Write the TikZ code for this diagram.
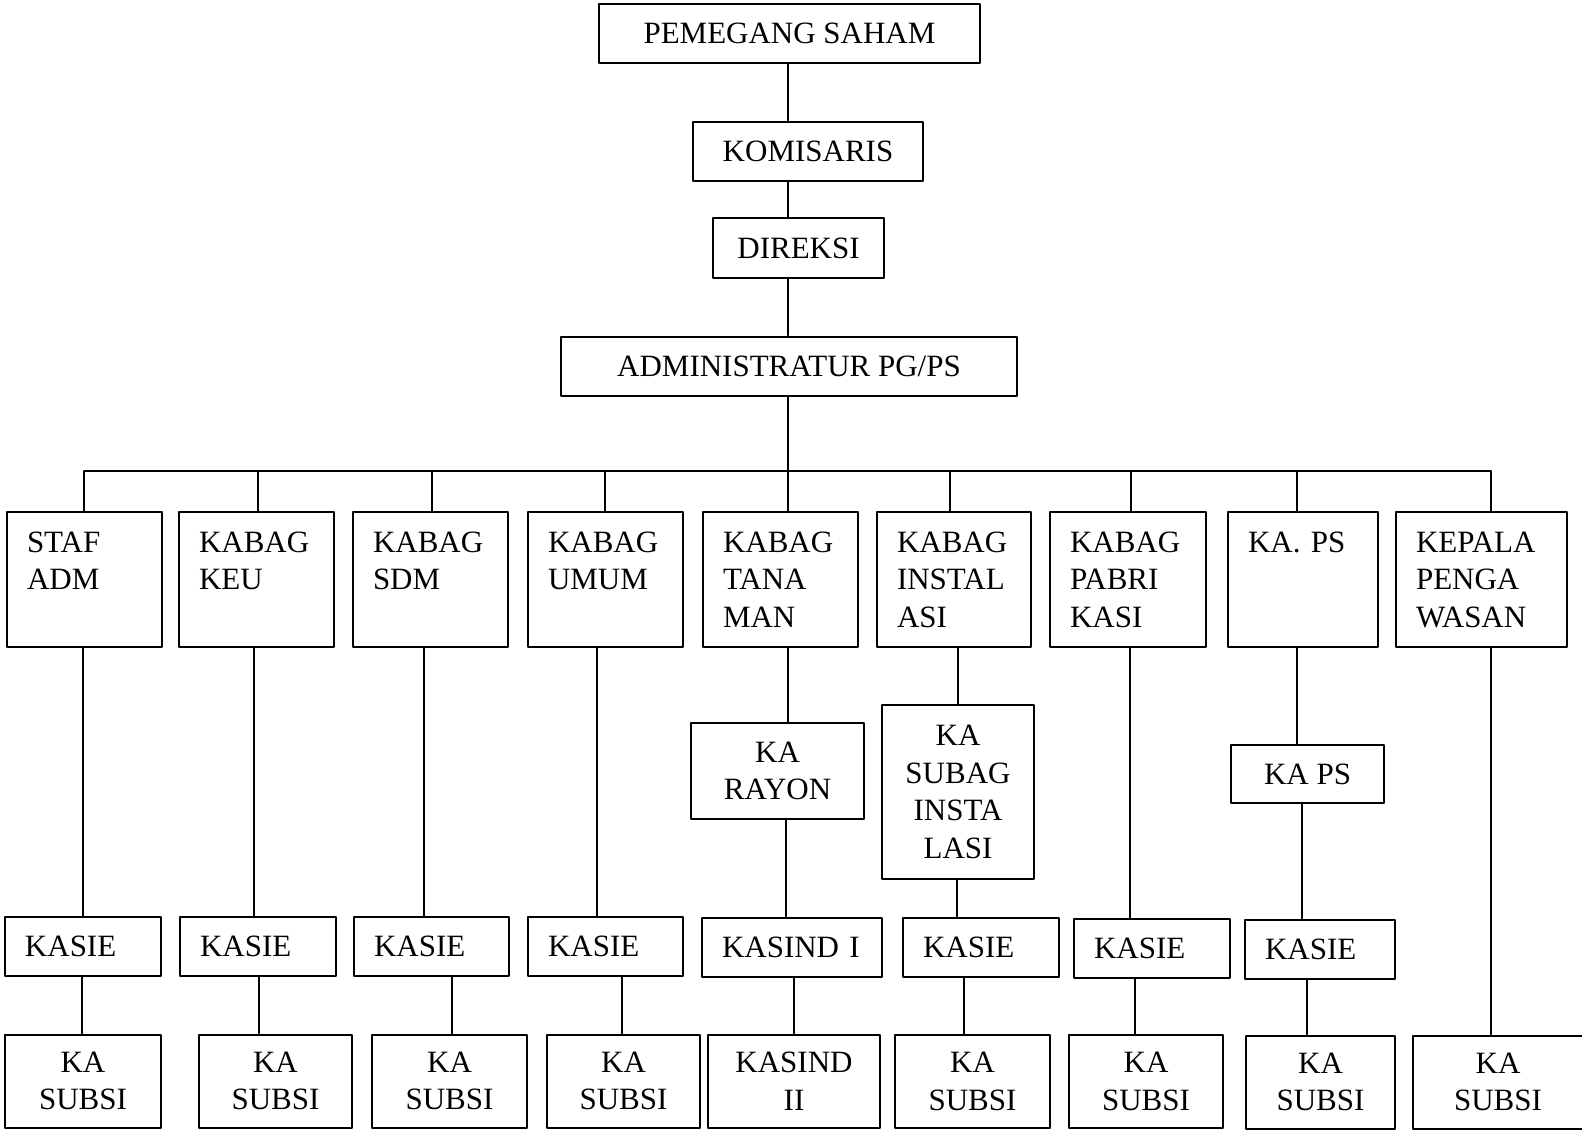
\documentclass[tikz,border=0pt]{standalone}
\usepackage{fontspec}
\setmainfont{Liberation Serif}

\tikzset{
  kotak/.style={draw, line width=1pt, inner sep=0pt, font=\fontsize{15.5}{18.75}\selectfont},
  pimpinan/.style={kotak, minimum width=#1, minimum height=29.5pt, align=center},
  bagian/.style={kotak, text width=#1, inner xsep=10pt, minimum height=67.5pt, align=left},
  seksi/.style={kotak, text width=#1, inner xsep=10pt, minimum height=29.5pt, align=left},
  subsi/.style={kotak, minimum width=#1, minimum height=46.5pt, align=center},
  garis/.style={line width=0.6pt}
}

\begin{document}
\begin{tikzpicture}[line cap=round,line join=round,x=0.5pt,y=-0.5pt]
	\useasboundingbox (0,0) rectangle (1582,1130);
	\clip (0,0) rectangle (1582,1130);

	\node[pimpinan=190.5pt] (saham) at (789.5,33.5) {PEMEGANG SAHAM};
	\node[pimpinan=115pt] (komisaris) at (808,151) {KOMISARIS};
	\node[pimpinan=85.5pt, minimum height=30pt] (direksi) at (798.5,248) {DIREKSI};
	\node[pimpinan=228pt] (admin) at (789,366) {ADMINISTRATUR PG/PS};

	\node[bagian=57.5pt] (staf) at (84.5,579.5) {STAF\\ADM\\\mbox{}};
	\node[bagian=57.5pt] (keu) at (256.5,579.5) {KABAG\\KEU\\\mbox{}};
	\node[bagian=57.5pt] (sdm) at (430.5,579.5) {KABAG\\SDM\\\mbox{}};
	\node[bagian=57.5pt] (umum) at (605.5,579.5) {KABAG\\UMUM\\\mbox{}};
	\node[bagian=57.5pt] (tanaman) at (780.5,579.5) {KABAG\\TANA\\MAN};
	\node[bagian=57pt] (instalasi) at (954,579.5) {KABAG\\INSTAL\\ASI};
	\node[bagian=58pt] (pabrikasi) at (1128,579.5) {KABAG\\PABRI\\KASI};
	\node[bagian=55pt] (kaps) at (1303,579.5) {KA. PS\\\mbox{}\\\mbox{}};
	\node[bagian=65.5pt] (kepala) at (1481.5,579.5) {KEPALA\\PENGA\\WASAN};

	\node[pimpinan=86.5pt, minimum height=48pt] (rayon) at (777.5,771) {KA\\RAYON};
	\node[pimpinan=76pt, minimum height=87pt] (subag) at (958,792) {KA\\SUBAG\\INSTA\\LASI};
	\node[pimpinan=76.5pt, minimum height=29pt] (kaps2) at (1307.5,774) {KA PS};

	\node[seksi=58pt] (kasie1) at (83,946.5) {KASIE};
	\node[seksi=58pt] (kasie2) at (258,946.5) {KASIE};
	\node[seksi=57.5pt] (kasie3) at (431.5,946.5) {KASIE};
	\node[seksi=57.5pt] (kasie4) at (605.5,946.5) {KASIE};
	\node[seksi=70pt] (kasind1) at (792,947.5) {KASIND I};
	\node[seksi=58pt] (kasie6) at (981,947.5) {KASIE};
	\node[seksi=58pt] (kasie7) at (1152,948.5) {KASIE};
	\node[seksi=55pt] (kasie8) at (1320,949) {KASIE};

	\node[subsi=78pt] (subsi1) at (83,1081) {KA\\SUBSI};
	\node[subsi=76.5pt] (subsi2) at (275.5,1081) {KA\\SUBSI};
	\node[subsi=77.5pt] (subsi3) at (449.5,1081) {KA\\SUBSI};
	\node[subsi=76.5pt] (subsi4) at (623.5,1081) {KA\\SUBSI};
	\node[subsi=86pt] (kasind2) at (794,1081) {KASIND\\II};
	\node[subsi=77.5pt] (subsi6) at (972.5,1081.5) {KA\\SUBSI};
	\node[subsi=77pt] (subsi7) at (1146,1081.5) {KA\\SUBSI};
	\node[subsi=74.5pt] (subsi8) at (1320.5,1082) {KA\\SUBSI};
	\node[subsi=85pt] (subsi9) at (1498,1082) {KA\\SUBSI};

	\coordinate (b1) at (84,471);
	\coordinate (b2) at (258,471);
	\coordinate (b3) at (432,471);
	\coordinate (b4) at (605,471);
	\coordinate (b5) at (788,471);
	\coordinate (b6) at (950,471);
	\coordinate (b7) at (1131,471);
	\coordinate (b8) at (1297,471);
	\coordinate (b9) at (1491,471);

	\draw [garis] (saham.south -| 788,0) -- (komisaris.north -| 788,0);
	\draw [garis] (komisaris.south -| 788,0) -- (direksi.north -| 788,0);
	\draw [garis] (direksi.south -| 788,0) -- (admin.north -| 788,0);
	\draw [garis] (admin.south -| b5) -- (b5);
	\draw [garis] (b1) -- (b9);

	\draw [garis] (b1) -- (b1 |- staf.north);
	\draw [garis] (b2) -- (b2 |- keu.north);
	\draw [garis] (b3) -- (b3 |- sdm.north);
	\draw [garis] (b4) -- (b4 |- umum.north);
	\draw [garis] (b5) -- (b5 |- tanaman.north);
	\draw [garis] (b6) -- (b6 |- instalasi.north);
	\draw [garis] (b7) -- (b7 |- pabrikasi.north);
	\draw [garis] (b8) -- (b8 |- kaps.north);
	\draw [garis] (b9) -- (b9 |- kepala.north);

	\draw [garis] (staf.south -| 83,0) -- (kasie1.north -| 83,0);
	\draw [garis] (keu.south -| 254,0) -- (kasie2.north -| 254,0);
	\draw [garis] (sdm.south -| 424,0) -- (kasie3.north -| 424,0);
	\draw [garis] (umum.south -| 597,0) -- (kasie4.north -| 597,0);
	\draw [garis] (tanaman.south -| 788,0) -- (rayon.north -| 788,0);
	\draw [garis] (rayon.south -| 786,0) -- (kasind1.north -| 786,0);
	\draw [garis] (instalasi.south -| 958,0) -- (subag.north -| 958,0);
	\draw [garis] (subag.south -| 957,0) -- (kasie6.north -| 957,0);
	\draw [garis] (pabrikasi.south -| 1130,0) -- (kasie7.north -| 1130,0);
	\draw [garis] (kaps.south -| 1297,0) -- (kaps2.north -| 1297,0);
	\draw [garis] (kaps2.south -| 1302,0) -- (kasie8.north -| 1302,0);
	\draw [garis] (kepala.south -| 1491,0) -- (subsi9.north -| 1491,0);

	\draw [garis] (kasie1.south -| 82,0) -- (subsi1.north -| 82,0);
	\draw [garis] (kasie2.south -| 259,0) -- (subsi2.north -| 259,0);
	\draw [garis] (kasie3.south -| 452,0) -- (subsi3.north -| 452,0);
	\draw [garis] (kasie4.south -| 622,0) -- (subsi4.north -| 622,0);
	\draw [garis] (kasind1.south -| 794,0) -- (kasind2.north -| 794,0);
	\draw [garis] (kasie6.south -| 964,0) -- (subsi6.north -| 964,0);
	\draw [garis] (kasie7.south -| 1135,0) -- (subsi7.north -| 1135,0);
	\draw [garis] (kasie8.south -| 1307,0) -- (subsi8.north -| 1307,0);
\end{tikzpicture}
\end{document}
